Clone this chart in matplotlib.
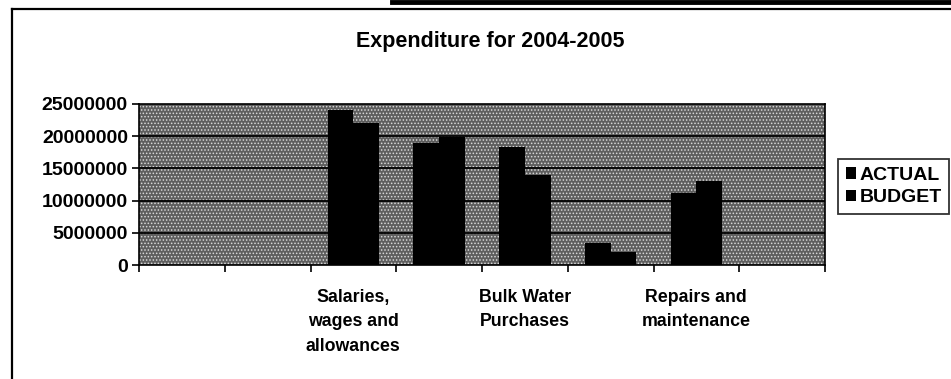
import numpy as np
import matplotlib
matplotlib.use("Agg")
import matplotlib.pyplot as plt
from matplotlib.lines import Line2D
from matplotlib.patches import Rectangle

plt.rcParams['font.family'] = ['Liberation Sans', 'DejaVu Sans']
plt.rcParams['font.weight'] = 'bold'
plt.rcParams['hatch.linewidth'] = 0.7

# expenditure categories (only some names are printed under the axis)
categories = ["", "", "Salaries,\nwages and\nallowances", "",
              "Bulk Water\nPurchases", "", "Repairs and\nmaintenance", ""]
actual = [0, 0, 24000000, 19000000, 18400000, 3400000, 11200000, 0]
budget = [0, 0, 22000000, 19900000, 14000000, 2000000, 13100000, 0]
yticks = [0, 5000000, 10000000, 15000000, 20000000, 25000000]

W, H = 951, 379
fig = plt.figure(figsize=(W / 100, H / 100), dpi=100)
ax = fig.add_axes([139 / W, 1 - 265 / H, (825 - 139) / W, (265 - 104) / H])

x = np.arange(len(categories))
bw = 0.3

# speckled grey plot area
ax.set_facecolor('#5e5e5e')
ax.add_patch(Rectangle((0, 0), 1, 1, transform=ax.transAxes, facecolor='none',
                       edgecolor='#d8d8d8', linewidth=0, hatch='.....', zorder=0))

for yv in yticks[1:-1]:
    ax.axhline(yv, color='black', lw=1.3, zorder=1)

b1 = ax.bar(x - bw / 2, actual, bw, color='black', label='ACTUAL', zorder=2)
b2 = ax.bar(x + bw / 2, budget, bw, color='black', label='BUDGET', zorder=2)

ax.set_xlim(-0.5, len(categories) - 0.5)
ax.set_ylim(0, 25000000)
ax.set_yticks(yticks)
ax.set_yticklabels([str(v) for v in yticks], fontsize=14, fontweight='bold')

# tick marks on the category boundaries, names centred below each category
ax.set_xticks(np.arange(len(categories) + 1) - 0.5)
ax.set_xticklabels([])
ax.set_xticks(x, minor=True)
ax.set_xticklabels(categories, minor=True, fontsize=12.8, fontweight='bold',
                   linespacing=1.6, va='top')
ax.tick_params(axis='x', which='minor', length=0, pad=17)
ax.tick_params(axis='x', which='major', length=5, width=1.2, direction='out')
ax.tick_params(axis='y', length=5, width=1.2, direction='out', pad=3)

for s in ax.spines.values():
    s.set_color('black')
    s.set_linewidth(1.2)

fig.text(490 / W, 1 - 42 / H, "Expenditure for 2004-2005", ha='center',
         va='center', fontsize=15.5, fontweight='bold')

leg = ax.legend(handles=[b1, b2], loc='center left',
                bbox_to_anchor=(838 / W, 1 - 186.5 / H), bbox_transform=fig.transFigure,
                borderaxespad=0, fontsize=14, frameon=True, fancybox=False,
                edgecolor='black', handlelength=0.55, handleheight=0.55,
                handletextpad=0.15, labelspacing=0.3, borderpad=0.4)
leg.get_frame().set_linewidth(1.3)
for t in leg.get_texts():
    t.set_fontweight('bold')

# outer chart border and the rule at the top of the page
fig.add_artist(Line2D([12 / W, 1], [1 - 9 / H, 1 - 9 / H], color='black', lw=1.6))
fig.add_artist(Line2D([12 / W, 12 / W], [1 - 9 / H, 0], color='black', lw=1.6))
fig.add_artist(Line2D([392 / W, 1], [1 - 2 / H, 1 - 2 / H], color='black', lw=3.5))

fig.savefig("out.png", dpi=100)
